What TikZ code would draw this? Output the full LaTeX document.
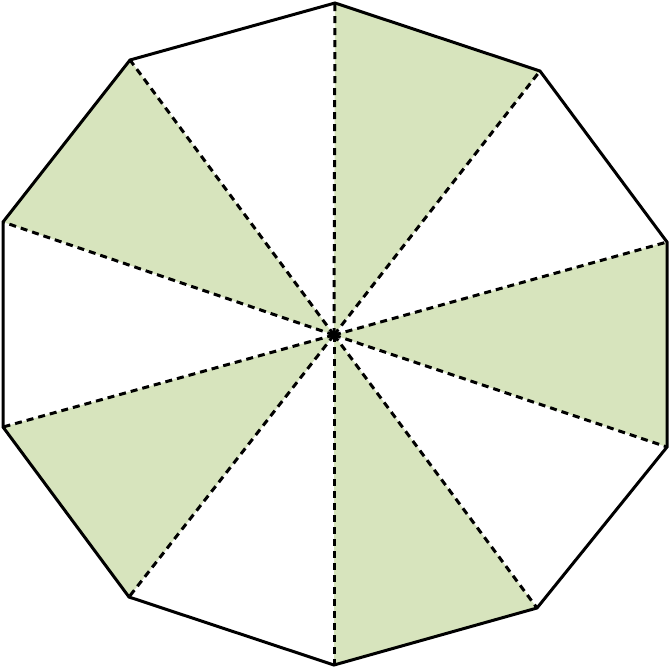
\documentclass[tikz,border=0pt]{standalone}
\definecolor{wedge}{HTML}{D7E4BD}
\begin{document}
\begin{tikzpicture}[x=1pt,y=-1pt,
  outline/.style={draw=black,line width=3pt,line join=miter},
  spoke/.style={draw=black,line width=3pt,dash pattern=on 7pt off 5pt},
  fillwedge/.style={fill=wedge,draw=none}]
\useasboundingbox (0,0) rectangle (670,670);
\coordinate (c) at (334,335);
\coordinate (v0) at (335,3);
\coordinate (v1) at (540,71);
\coordinate (v2) at (667,242);
\coordinate (v3) at (667,447);
\coordinate (v4) at (537,608);
\coordinate (v5) at (334,665);
\coordinate (v6) at (129,597);
\coordinate (v7) at (3,427);
\coordinate (v8) at (3,222);
\coordinate (v9) at (130,60);
\fill[fillwedge] (c) -- (v0) -- (v1) -- cycle;
\fill[fillwedge] (c) -- (v2) -- (v3) -- cycle;
\fill[fillwedge] (c) -- (v4) -- (v5) -- cycle;
\fill[fillwedge] (c) -- (v6) -- (v7) -- cycle;
\fill[fillwedge] (c) -- (v8) -- (v9) -- cycle;
\foreach \i in {0,...,9} { \draw[spoke] (c) -- (v\i); }
\draw[outline] (v0) -- (v1) -- (v2) -- (v3) -- (v4) -- (v5) -- (v6) -- (v7) -- (v8) -- (v9) -- cycle;
\end{tikzpicture}
\end{document}
